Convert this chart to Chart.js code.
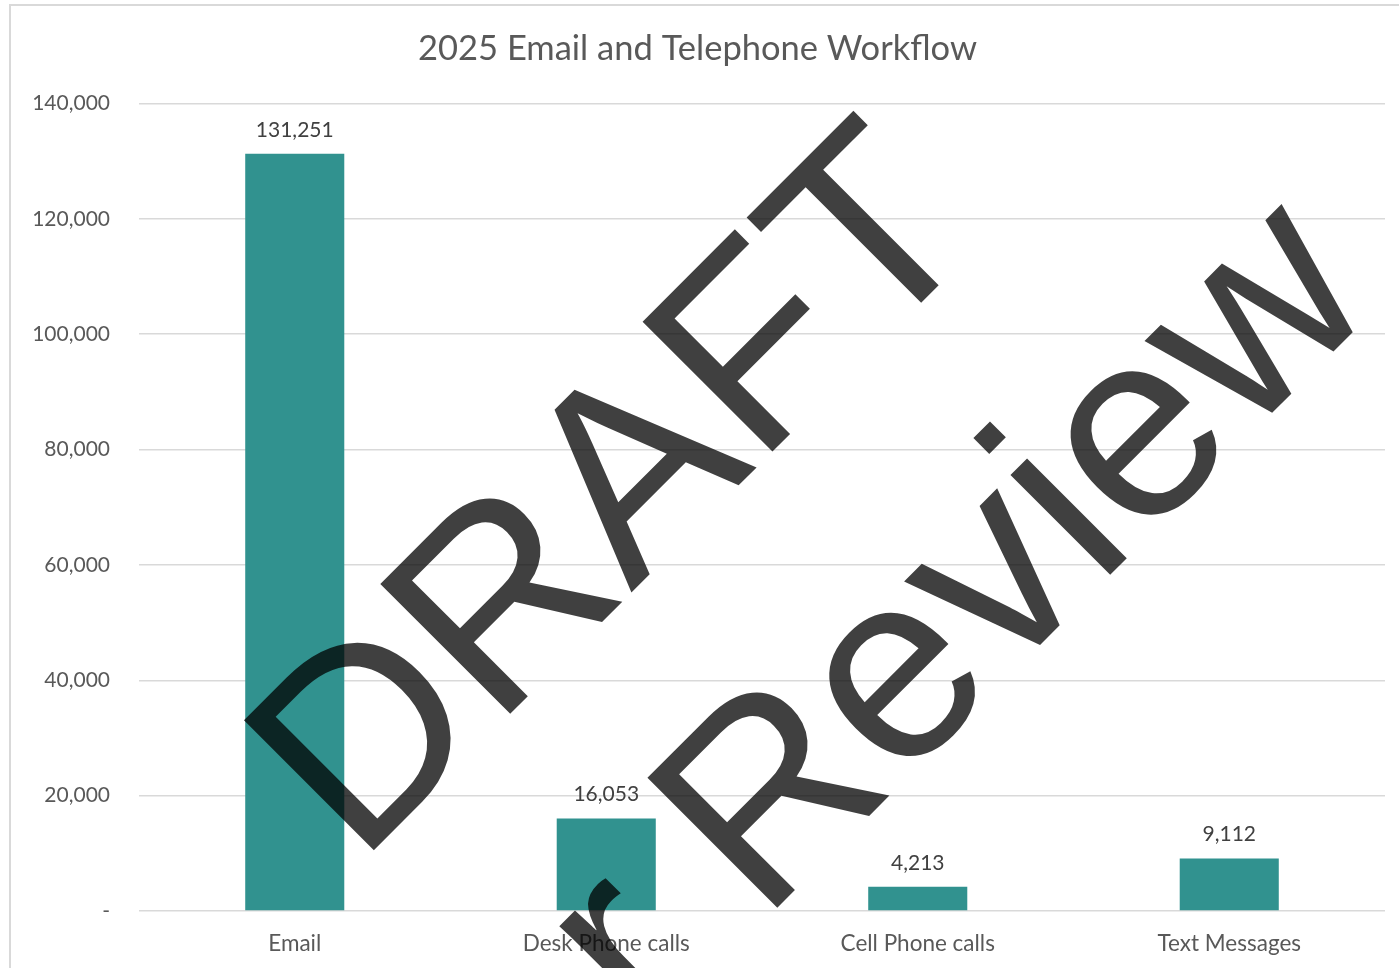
<!DOCTYPE html>
<html>
<head>
<meta charset="utf-8">
<title>2025 Email and Telephone Workflow</title>
<script src="https://cdn.jsdelivr.net/npm/chart.js@4.4.1/dist/chart.umd.min.js"></script>
<style>
  html, body { margin: 0; padding: 0; background: #fff; overflow: hidden; }
  #wrap { position: absolute; left: 0; top: 0; width: 1399px; height: 968px; }
</style>
</head>
<body>
<div id="wrap"><canvas id="workflowChart"></canvas></div>
<script>
// Données du graphique
const categories = ['Email', 'Desk Phone calls', 'Cell Phone calls', 'Text Messages'];
const volumes = [131251, 16053, 4213, 9112];
const yMin = 0;
const yMax = 140000;
const yStep = 20000;
const chartTitle = '2025 Email and Telephone Workflow';
const watermarkLines = ['DRAFT', 'For Review'];

const textGray = '#595959';
const barColor = '#31928F';
const gridColor = '#d9d9d9';

Chart.defaults.font.family = 'Lato';

const fmt = v => v.toLocaleString('en-US');

// Cadre gris autour du graphique
const frame = {
  id: 'frame',
  beforeDraw(chart) {
    const ctx = chart.ctx;
    ctx.save();
    ctx.strokeStyle = '#d9d9d9';
    ctx.lineWidth = 2;
    ctx.strokeRect(10, 5, 1500, 1500);
    ctx.restore();
  }
};

// Étiquettes de valeur au-dessus des barres
const valueLabels = {
  id: 'valueLabels',
  afterDatasetsDraw(chart) {
    const ctx = chart.ctx;
    const meta = chart.getDatasetMeta(0);
    ctx.save();
    ctx.fillStyle = '#404040';
    ctx.font = '21px Lato';
    ctx.textAlign = 'center';
    ctx.textBaseline = 'alphabetic';
    meta.data.forEach((bar, i) => {
      ctx.fillText(fmt(chart.data.datasets[0].data[i]), bar.x, bar.y - 17);
    });
    ctx.restore();
  }
};

// Filigrane
const watermark = {
  id: 'watermark',
  afterDraw(chart) {
    const ctx = chart.ctx;
    ctx.save();
    ctx.fillStyle = 'rgba(0,0,0,0.75)';
    ctx.font = '267px "Liberation Sans"';
    ctx.fontKerning = 'none';
    ctx.textAlign = 'center';
    ctx.textBaseline = 'alphabetic';
    ctx.translate(673, 551);
    ctx.rotate(-Math.PI / 4);
    watermarkLines.forEach((line, i) => ctx.fillText(line, 0, i * 326));
    ctx.restore();
  }
};

new Chart(document.getElementById('workflowChart'), {
  type: 'bar',
  data: {
    labels: categories,
    datasets: [{
      label: 'Volume',
      data: volumes,
      backgroundColor: barColor,
      borderWidth: 0,
      barPercentage: 0.318,
      categoryPercentage: 1
    }]
  },
  options: {
    responsive: true,
    maintainAspectRatio: false,
    animation: false,
    layout: { padding: { left: 10, right: 14, top: 0, bottom: 0 } },
    plugins: {
      legend: { display: false },
      tooltip: { enabled: false },
      title: {
        display: true,
        text: chartTitle,
        color: textGray,
        font: { size: 34.5, weight: 'normal' },
        padding: { top: 28, bottom: 34 }
      }
    },
    scales: {
      x: {
        grid: { display: false, drawTicks: false },
        border: { display: false },
        ticks: { color: textGray, font: { size: 22.5 }, padding: 19 },
        afterFit(scale) { scale.height = 57; }
      },
      y: {
        min: yMin,
        max: yMax,
        grid: { color: gridColor, lineWidth: 1.5, drawTicks: false },
        border: { display: false },
        ticks: {
          stepSize: yStep,
          color: textGray,
          font: { size: 21 },
          padding: 29,
          callback: v => v === 0 ? '-' : fmt(v)
        },
        afterFit(scale) { scale.width = 129; }
      }
    }
  },
  plugins: [frame, valueLabels, watermark]
});
</script>
</body>
</html>
